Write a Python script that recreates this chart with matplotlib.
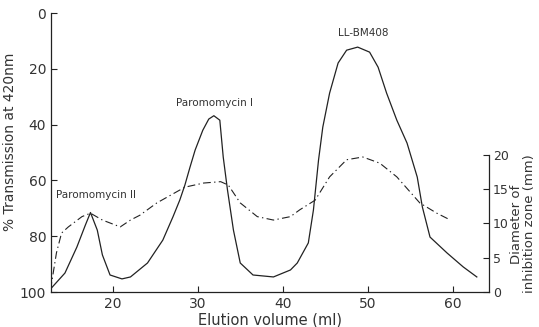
import matplotlib.pyplot as plt

# solid curve: % transmission at 420 nm
elution_ml = [12.8, 14.4, 15.8, 16.8, 17.4, 18.2, 18.8, 19.7, 21.1, 22.1,
              24.1, 25.9, 27.1, 27.9, 28.5, 29.1, 29.7, 30.6, 31.3, 31.9,
              32.6, 33.0, 33.5, 34.2, 35.0, 36.5, 38.9, 40.9, 41.7, 43.0,
              43.6, 44.2, 44.7, 45.5, 46.5, 47.5, 48.8, 50.2, 51.2, 52.2,
              53.4, 54.6, 55.8, 56.4, 57.3, 59.3, 61.2, 62.8]
transmission = [98.6, 93.2, 83.9, 76.0, 71.5, 77.8, 86.7, 93.9, 95.3, 94.6,
                89.6, 81.4, 73.0, 67.0, 61.6, 55.2, 49.1, 42.0, 38.0, 36.8,
                38.4, 51.6, 63.4, 77.8, 89.6, 93.9, 94.6, 92.1, 89.6, 82.4,
                70.6, 52.7, 40.9, 28.7, 17.9, 13.3, 12.2, 14.0, 19.4, 28.7,
                38.4, 46.6, 58.8, 69.5, 80.3, 86.0, 91.0, 94.6]

# dash-dot curve: diameter of inhibition zone (mm)
zone_ml = [12.7, 13.4, 14.0, 14.8, 16.4, 17.4, 18.8, 20.9, 22.1, 23.2,
           25.2, 28.5, 30.7, 32.7, 33.6, 35.0, 37.0, 38.9, 40.9, 42.0,
           43.8, 45.5, 47.5, 49.4, 51.4, 53.4, 56.1, 58.1, 59.7]
zone_mm = [0.3, 5.7, 8.6, 9.5, 11.0, 11.5, 10.5, 9.5, 10.5, 11.2,
           13.0, 15.3, 15.9, 16.1, 15.6, 13.0, 11.0, 10.5, 11.0, 12.0,
           13.4, 16.8, 19.3, 19.7, 18.8, 16.8, 13.0, 11.5, 10.5]

peak_names = ['Paromomycin II', 'Paromomycin I', 'LL-BM408']
peak_pos = [(18.0, 65.2), (32.0, 32.3), (49.4, 7.2)]

x_ticks = [20, 30, 40, 50, 60]
left_ticks = [0, 20, 40, 60, 80, 100]
right_ticks = [0, 5, 10, 15, 20]

ink = '#222222'
txt = '#333333'
plt.rcParams['font.family'] = ['DejaVu Sans']

fig = plt.figure(figsize=(5.39, 3.27), dpi=100)
ax = fig.add_axes([0.0946, 0.107, 0.8126, 0.853])
ax2 = ax.twinx()

ax.plot(elution_ml, transmission, color=ink, lw=0.9, solid_joinstyle='round')
ax2.plot(zone_ml, zone_mm, color=ink, lw=0.8, dashes=(7, 3, 1.2, 3))

ax.set_xlim(12.76, 64.23)
ax.set_ylim(100, 0)
ax2.set_ylim(0, 40.7)

ax.set_xticks(x_ticks)
ax.set_yticks(left_ticks)
ax2.set_yticks(right_ticks)
ax2.spines['right'].set_bounds(0, 20)

ax.spines['top'].set_visible(False)
ax.spines['right'].set_visible(False)
for s in ['top', 'left', 'bottom']:
    ax2.spines[s].set_visible(False)
for sp in ax.spines.values():
    sp.set_color(ink)
    sp.set_linewidth(0.9)
ax2.spines['right'].set_color(ink)
ax2.spines['right'].set_linewidth(0.9)

ax.tick_params(direction='in', length=4, width=0.8, colors=ink, labelsize=10, labelcolor=txt)
ax2.tick_params(direction='in', length=4, width=0.8, colors=ink, labelsize=9, labelcolor=txt, pad=3)

ax.set_xlabel('Elution volume (ml)', fontsize=10.5, color=txt, labelpad=1)
ax.set_ylabel('% Transmission at 420nm', fontsize=10, color=txt, labelpad=2)
ax.yaxis.set_label_coords(-0.078, 0.54)
fig.text(523 / 539, 1 - 224 / 327, 'Diameter of\ninhibition zone (mm)', rotation=90,
         ha='center', va='center', multialignment='center', fontsize=9.5, color=txt,
         linespacing=1.05)

for name, (xx, yy) in zip(peak_names, peak_pos):
    ax.text(xx, yy, name, ha='center', va='center', fontsize=7.5, color=txt)

fig.savefig('out.png', dpi=100)
